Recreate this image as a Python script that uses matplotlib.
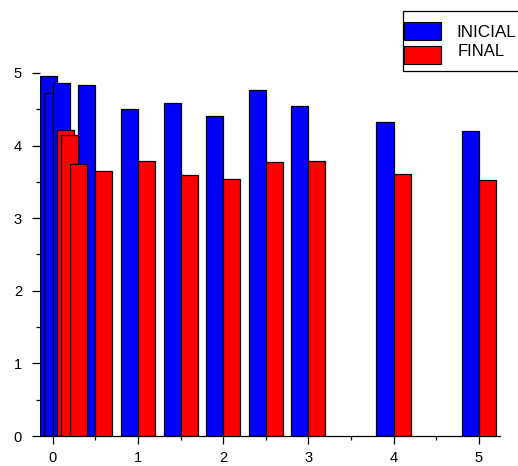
import matplotlib
matplotlib.use("Agg")
import matplotlib.pyplot as plt
from matplotlib.patches import Rectangle
from matplotlib.ticker import MultipleLocator

plt.rcParams['font.family'] = ['Liberation Sans', 'DejaVu Sans']

# Sampling positions and measured values
positions = [0.05, 0.1, 0.2, 0.5, 1.0, 1.5, 2.0, 2.5, 3.0, 4.0, 5.0]
inicial = [4.96, 4.72, 4.86, 4.83, 4.50, 4.59, 4.41, 4.77, 4.54, 4.32, 4.20]
final = [4.21, 4.15, 3.74, 3.65, 3.79, 3.60, 3.54, 3.78, 3.79, 3.61, 3.53]
series_labels = ["INICIAL", "FINAL"]
x_ticks = [0, 1, 2, 3, 4, 5]
y_ticks = [0, 1, 2, 3, 4, 5]

width = 0.2
blue = "#0000ff"
red = "#ff0000"

fig = plt.figure(figsize=(5.18, 4.66), dpi=100)
ax = fig.add_axes([40 / 518, 30 / 466, 460 / 518, 363 / 466])

ax.bar(positions, inicial, width=-width, align="edge", color=blue,
       edgecolor="black", linewidth=0.9, zorder=2)
ax.bar(positions, final, width=width, align="edge", color=red,
       edgecolor="black", linewidth=0.9, zorder=3)

ax.set_xlim(-0.15, 5.25)
ax.set_ylim(0, 5)

for s in ("top", "right", "left"):
    ax.spines[s].set_visible(False)
ax.spines["bottom"].set_linewidth(0.9)

ax.set_xticks(x_ticks)
ax.set_yticks(y_ticks)
ax.xaxis.set_minor_locator(MultipleLocator(0.5))
ax.yaxis.set_minor_locator(MultipleLocator(0.5))
ax.tick_params(axis="both", which="major", direction="out", length=6,
               width=0.9, labelsize=10.5, color="black")
ax.tick_params(axis="both", which="minor", direction="out", length=3,
               width=0.9, color="black")
ax.tick_params(axis="x", which="major", pad=5)
ax.tick_params(axis="y", which="major", pad=7)

# upper y ticks hidden behind the tallest bars
for t in ax.yaxis.get_major_ticks():
    if t.get_loc() >= 4:
        t.tick1line.set_visible(False)
for t in ax.yaxis.get_minor_ticks():
    if t.get_loc() >= 4:
        t.tick1line.set_visible(False)

# legend box
H = 466.0
W = 518.0
def fx(px):
    return px / W
def fy(py):
    return 1 - py / H

fig.patches.append(Rectangle((fx(402.5), fy(70.5)), fx(130), 60 / H,
                             transform=fig.transFigure, facecolor="white",
                             edgecolor="black", linewidth=0.9, zorder=5))
fig.patches.append(Rectangle((fx(404), fy(39.5)), fx(37), 17.5 / H,
                             transform=fig.transFigure, facecolor=blue,
                             edgecolor="black", linewidth=0.8, zorder=6))
fig.patches.append(Rectangle((fx(404), fy(63.5)), fx(37), 17.5 / H,
                             transform=fig.transFigure, facecolor=red,
                             edgecolor="black", linewidth=0.8, zorder=6))
fig.text(fx(456), fy(32.5), series_labels[0], fontsize=12.3, va="center",
         ha="left", zorder=7)
fig.text(fx(458), fy(51), series_labels[1], fontsize=12, va="center",
         ha="left", zorder=7)

fig.savefig("out.png", dpi=100)
